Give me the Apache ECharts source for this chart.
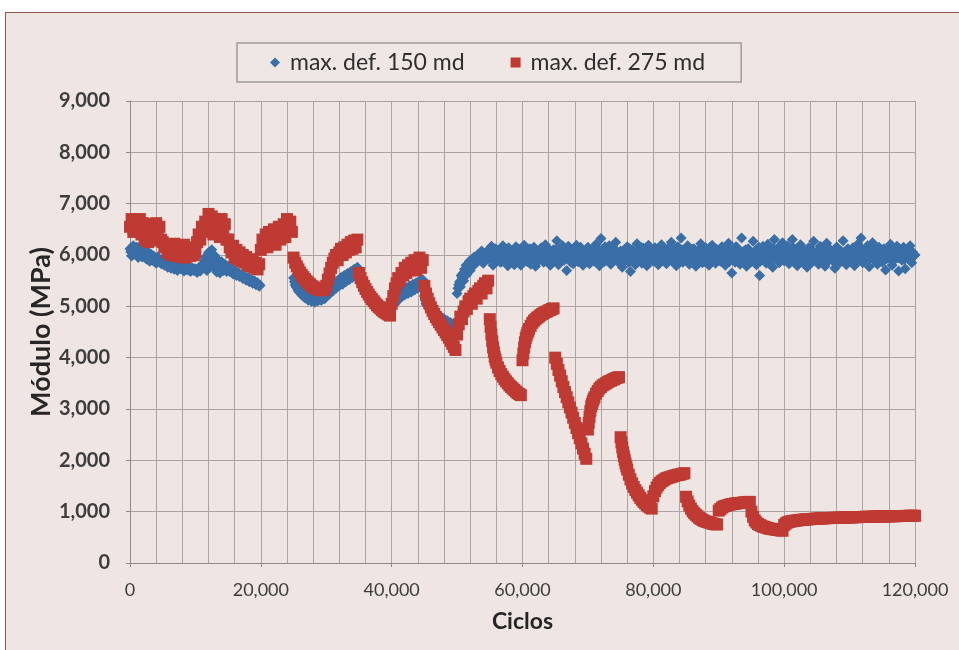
<!DOCTYPE html>
<html><head><meta charset="utf-8">
<script src="https://cdn.jsdelivr.net/npm/echarts@6/dist/echarts.min.js"></script>
<style>
html,body{margin:0;padding:0;background:#fff;width:959px;height:650px;overflow:hidden;}
#panel{position:absolute;left:5px;top:12px;width:1000px;height:700px;border:1.5px solid #8d5b47;background:#efe6e3;}
#chart{position:absolute;left:0;top:0;width:959px;height:650px;}
</style></head><body><div id="panel"></div><div id="chart"></div>
<script>
// ---- data ----
const seriesNames = ['max. def. 150 md', 'max. def. 275 md'];
const xTickLabels = ['0', '20,000', '40,000', '60,000', '80,000', '100,000', '120,000'];
const yTickLabels = ['0', '1,000', '2,000', '3,000', '4,000', '5,000', '6,000', '7,000', '8,000', '9,000'];

// blue: max. def. 150 md (readings every 250 cycles; the "d" arrays are the readings in between, offset by 125)
const blueA = [
  6120, 5980, 6180, 6040, 6150, 5950, 6080, 6200, 5990, 6100, 5920, 6060, 5880, 6010, 5940, 5870, 5840, 5960, 5890, 5830,
  5920, 5800, 5880, 5760, 5850, 5740, 5830, 5720, 5860, 5700, 5810, 5730, 5790, 5690, 5820, 5710, 5770, 5680, 5750, 5700,
  5720, 5660, 5750, 5690, 5740, 5850, 5950, 5700, 6050, 5820, 6100, 5760, 5980, 5670, 5900, 5650, 5870, 5700, 5820, 5680,
  5780, 5680, 5740, 5630, 5700, 5600, 5660, 5580, 5620, 5540, 5590, 5510, 5560, 5480, 5530, 5450, 5500, 5420, 5460, 5390
];
const blueAd = [
  6060, 6100, 6020, 6140, 6000, 6080, 6040, 5960, 6060, 5980, 6000, 5930, 5960, 5900, 5980, 5920, 5880, 5900, 5860, 5870,
  5860, 5820, 5800, 5840, 5780, 5800, 5770, 5790, 5760, 5780, 5750, 5770, 5740, 5760, 5730, 5750, 5720, 5740, 5720, 5730,
  5700, 5730, 5710, 5760, 5800, 5900, 5830, 6000, 5920, 5980, 5880, 5860, 5800, 5780, 5760, 5780, 5740, 5760, 5720, 5740,
  5720, 5690, 5680, 5660, 5640, 5630, 5610, 5600, 5580, 5570, 5550, 5530, 5520, 5500, 5490, 5470, 5460, 5440, 5420, 5410
];
const blueB = [
  5550, 5420, 5460, 5300, 5380, 5220, 5300, 5160, 5260, 5120, 5220, 5100, 5200, 5080, 5180, 5110, 5200, 5120, 5230, 5150,
  5200, 5300, 5240, 5360, 5300, 5450, 5350, 5500, 5400, 5560, 5430, 5600, 5480, 5640, 5520, 5680, 5560, 5720, 5600, 5760,
  5550, 5480, 5420, 5370, 5320, 5280, 5240, 5200, 5170, 5140, 5110, 5080, 5060, 5040, 5020, 5000, 4990, 4980, 4970, 4960,
  4980, 5080, 5050, 5180, 5120, 5260, 5180, 5300, 5220, 5360, 5250, 5400, 5280, 5430, 5320, 5460, 5350, 5500, 5380, 5520,
  5200, 5050, 5060, 4950, 4960, 4880, 4900, 4830, 4850, 4780, 4800, 4740, 4760, 4700, 4720, 4650, 4680, 4600, 4620, 4560
];
const blueBd = [
  5480, 5380, 5340, 5280, 5260, 5220, 5200, 5190, 5170, 5160, 5140, 5150, 5130, 5140, 5130, 5150, 5140, 5170, 5160, 5180,
  5240, 5280, 5320, 5330, 5380, 5400, 5440, 5460, 5480, 5500, 5520, 5540, 5560, 5580, 5600, 5610, 5640, 5660, 5680, 5700,
  5520, 5450, 5400, 5350, 5300, 5260, 5220, 5190, 5160, 5130, 5100, 5070, 5050, 5030, 5010, 4990, 4980, 4970, 4960, 4950,
  5020, 5060, 5120, 5150, 5200, 5230, 5240, 5280, 5290, 5310, 5320, 5340, 5350, 5370, 5380, 5390, 5400, 5420, 5430, 5450,
  5120, 5020, 4990, 4940, 4920, 4880, 4860, 4830, 4810, 4790, 4770, 4750, 4730, 4710, 4690, 4670, 4650, 4630, 4610, 4590
];
const blueC = [
  5250, 5420, 5380, 5560, 5500, 5680, 5620, 5760, 5700, 5850, 5790, 5940, 5860, 6010, 5900, 6080, 5840, 5980, 6060, 5920,
  5950, 6170, 5800, 6020, 5880, 6090, 6030, 5870, 6180, 5940, 6100, 5790, 5890, 6080, 5960, 5810, 6160, 6010, 6100, 5800,
  6010, 6190, 5940, 5870, 6080, 5820, 5960, 6150, 5780, 6040, 5900, 6110, 6020, 5860, 6200, 5930, 6070, 5800, 5880, 6100,
  5950, 6280, 5810, 6040, 5890, 6120, 5980, 5700, 6170, 5920, 6060, 5830, 6010, 6190, 5870, 5960, 6100, 5800, 6040, 5900,
  6150, 5830, 6000, 6090, 5880, 6210, 5950, 5790, 6320, 6030, 5870, 6110, 5940, 6180, 5820, 6060, 5910, 6250, 5990, 5850,
  6080, 5760, 6020, 5940, 6160, 5860, 5680, 6100, 5990, 5810, 6220, 5900, 6050, 5840, 6130, 5970, 5790, 6190, 5920, 6070,
  5880, 6140, 5960, 5810, 6060, 6200, 5900, 6010, 5830, 6120, 5940, 6250, 5870, 6040, 5790, 6160, 5990, 6330, 5860, 6080,
  5950, 6180, 5820, 6030, 5900, 6110, 5780, 6070, 5980, 6220, 5850, 6000, 6140, 5910, 5800, 6060, 6190, 5930, 5840, 6100,
  6020, 5880, 6160, 5950, 5800, 6090, 6230, 5910, 5650, 6040, 5860, 6150, 5990, 5820, 6330, 6070, 5930, 5780, 6120, 6000,
  5870, 6270, 5960, 5810, 6100, 5600, 6030, 6170, 5900, 5840, 6210, 5990, 6060, 5760, 6300, 5920, 6130, 5850, 6010, 6240,
  5890, 6050, 6180, 5830, 5970, 6300, 5910, 6100, 5790, 6020, 6200, 5870, 6080, 5950, 5760, 6140, 6000, 5860, 6270, 5930,
  6060, 5820, 6170, 5950, 6010, 5780, 6230, 5890, 6110, 5970, 6040, 5740, 6150, 5910, 5850, 6070, 6280, 5960, 5810, 6120,
  6000, 5870, 6140, 5790, 6060, 6210, 5930, 6330, 5850, 6030, 5960, 6180, 5770, 6090, 6240, 5900, 6010, 5820, 6150, 5980,
  5860, 6120, 5710, 6040, 5940, 6210, 5800, 6070, 5980, 6170, 5690, 6020, 5900, 6150, 5730, 6060, 5940, 6180, 5850, 6010,
  6000
];
const blueCd = [
  5350, 5480, 5600, 5640, 5720, 5800, 5760, 5880, 5820, 5920, 5960, 5900, 6000, 5940, 6040, 5980, 6020, 5950, 6080, 6000,
  6060, 5900, 5990, 6120, 5930, 6040, 5860, 6000, 6080, 5920, 5980, 6140, 5940, 6020, 5880, 6060, 5960, 6100, 5910, 6030,
  5920, 6060, 6000, 5890, 6120, 5970, 6030, 5880, 6080, 5950, 6010, 6140, 5900, 6050, 5980, 5870, 6100, 5940, 6020, 5960,
  6100, 5920, 6050, 5980, 6180, 5900, 6040, 5960, 6090, 5860, 6000, 6120, 5930, 6060, 5990, 6150, 5910, 6030, 5870, 6080,
  5970, 6060, 5910, 6130, 6010, 5940, 6100, 5880, 6050, 5990, 6160, 5920, 6070, 5850, 6020, 5960, 6110, 5900, 6040, 6000,
  5940, 6080, 5880, 6020, 5980, 6120, 5910, 6050, 5860, 6000, 6090, 5950, 6150, 5920, 6010, 5890, 6060, 5970, 6110, 5930,
  6020, 5950, 6090, 5880, 6040, 5990, 6130, 5920, 6060, 5970, 6010, 6150, 5900, 6080, 5960, 6030, 5870, 6100, 5940, 6050,
  6070, 5910, 6010, 5980, 6120, 5890, 6040, 5950, 6100, 5930, 6060, 5870, 6020, 5990, 6140, 5920, 6050, 5960, 6090, 5900,
  5960, 6050, 5900, 6110, 5990, 6030, 5870, 6080, 5940, 6000, 6160, 5920, 6060, 5980, 6020, 5890, 6100, 5950, 6040, 5910,
  6030, 5920, 6090, 5980, 6150, 5880, 6020, 5960, 6100, 5930, 6050, 5990, 5900, 6130, 6010, 5950, 6070, 5920, 6110, 5970,
  6000, 6090, 5940, 6040, 5980, 6140, 5910, 6060, 5970, 6100, 5930, 6020, 5880, 6080, 6010, 5950, 6120, 5990, 6040, 5920,
  5960, 6070, 5990, 6120, 5920, 6040, 5970, 6000, 6090, 5890, 6030, 5980, 6140, 5940, 6060, 6010, 5900, 6080, 5960, 6050,
  6040, 5930, 6100, 5980, 6020, 5900, 6130, 5970, 6060, 5940, 6090, 6000, 5920, 6050, 5990, 6150, 5910, 6070, 5960, 6030,
  5990, 6050, 5920, 6100, 5960, 6030, 5880, 6070, 6000, 5940, 6120, 5970, 6040, 5910, 6080, 5990, 6020, 5930, 6060, 5990
];
const blueRuns      = [blueA, blueAd, blueB, blueBd, blueC, blueCd];
const blueRunStarts = [0, 125, 25000, 25125, 50000, 50125];
const BLUE_STEP = 250;

// red: max. def. 275 md, one array per run (start cycle and sampling step listed below)
const red00 = [6550, 6700, 6450, 6650, 6600, 6480, 6700, 6400, 6620, 6300, 6550, 6250, 6600, 6350, 6500, 6280, 6620, 6400, 6550, 6300];
const red05 = [6250, 6150, 6200, 6050, 6180, 6000, 6120, 6220, 5980, 6100, 6150, 5960, 6080, 6200, 5950, 6050, 6120, 5980, 6150, 6000];
const red10 = [6050, 6250, 6400, 6300, 6550, 6450, 6650, 6500, 6800, 6600, 6750, 6400, 6700, 6500, 6650, 6350, 6700, 6450, 6600, 6300];
const red15 = [6300, 6150, 6050, 6180, 5950, 6100, 5920, 6050, 5880, 6000, 5850, 5960, 5800, 5920, 5780, 5880, 5750, 5850, 5720, 5820];
const red20 = [6100, 6300, 6200, 6400, 6150, 6450, 6250, 6350, 6500, 6200, 6400, 6550, 6300, 6450, 6600, 6350, 6700, 6500, 6650, 6450];
const red25 = [5950, 5850, 5780, 5720, 5660, 5610, 5570, 5530, 5490, 5460, 5430, 5400, 5380, 5360, 5340, 5330, 5320, 5310, 5320, 5340];
const red30 = [5400, 5520, 5640, 5750, 5850, 5930, 6000, 5900, 6050, 6120, 6000, 6150, 6050, 6200, 6100, 6250, 6120, 6280, 6150, 6300];
const red35 = [5650, 5550, 5470, 5400, 5340, 5280, 5230, 5180, 5140, 5100, 5060, 5020, 4990, 4960, 4930, 4900, 4880, 4860, 4840, 4820];
const red40 = [5050, 5200, 5350, 5450, 5550, 5500, 5650, 5600, 5750, 5650, 5800, 5700, 5850, 5750, 5900, 5700, 5850, 5950, 5750, 5900];
const red45 = [5400, 5250, 5150, 5060, 4980, 4910, 4850, 4790, 4740, 4690, 4640, 4590, 4540, 4490, 4440, 4390, 4330, 4270, 4210, 4150];
const red50 = [4450, 4650, 4800, 4750, 4900, 5000, 4950, 5100, 5150, 5050, 5200, 5250, 5150, 5300, 5350, 5250, 5400, 5450, 5350, 5500];
const red55a = [4750, 4600, 4450, 4320, 4200, 4110, 4020, 3960];
const red55 = [3900, 3810, 3740, 3680, 3630, 3580, 3540, 3500, 3460, 3430, 3400, 3370, 3340, 3310, 3290, 3270];
const red60a = [3950, 4080, 4200, 4300, 4380, 4430, 4480, 4520];
const red60 = [4560, 4620, 4680, 4720, 4750, 4780, 4800, 4830, 4850, 4870, 4890, 4900, 4920, 4930, 4950, 4960];
const red65 = [4000, 3880, 3760, 3650, 3540, 3430, 3330, 3230, 3130, 3030, 2930, 2830, 2730, 2630, 2530, 2430, 2330, 2230, 2130, 2030];
const red70a = [2600, 2730, 2850, 2960, 3050, 3100, 3150, 3190];
const red70 = [3230, 3300, 3350, 3400, 3430, 3460, 3480, 3500, 3520, 3540, 3550, 3570, 3580, 3600, 3610, 3620];
const red75a = [2450, 2350, 2250, 2160, 2080, 2010, 1940, 1880];
const red75 = [1820, 1720, 1630, 1550, 1480, 1420, 1370, 1320, 1270, 1230, 1190, 1160, 1130, 1100, 1080, 1060];
const red80 = [1300, 1400, 1470, 1520, 1560, 1590, 1610, 1630, 1650, 1660, 1670, 1680, 1690, 1700, 1710, 1720, 1720, 1730, 1740, 1750];
const red85 = [1290, 1200, 1120, 1060, 1010, 970, 940, 910, 880, 860, 840, 820, 810, 800, 790, 780, 770, 760, 755, 750];
const red90 = [1020, 1050, 1080, 1100, 1110, 1120, 1130, 1140, 1150, 1150, 1160, 1160, 1170, 1170, 1170, 1180, 1180, 1180, 1190, 1190];
const red95 = [1000, 900, 830, 790, 760, 740, 725, 710, 700, 690, 680, 670, 665, 660, 655, 650, 645, 640, 635, 630];
const red100 = [
  740, 770, 790, 800, 810, 815, 820, 825, 830, 835, 838, 842, 845, 848, 850, 852, 855, 858, 860, 862,
  865, 866, 868, 870, 871, 872, 874, 875, 876, 878, 879, 880, 881, 882, 883, 884, 885, 886, 887, 888,
  889, 890, 891, 892, 893, 894, 895, 896, 897, 898, 899, 900, 900, 901, 902, 903, 904, 905, 906, 907,
  908, 908, 909, 910, 910, 911, 912, 912, 913, 914, 914, 915, 916, 916, 917, 918, 918, 919, 920, 920,
  920
];
const redRuns      = [red00, red05, red10, red15, red20, red25, red30, red35, red40, red45, red50, red55a, red55, red60a, red60, red65, red70a, red70, red75a, red75, red80, red85, red90, red95, red100];
const redRunStarts = [0, 5000, 10000, 15000, 20000, 25000, 30000, 35000, 40000, 45000, 50000, 55000, 56000, 60000, 61000, 65000, 70000, 71000, 75000, 76000, 80000, 85000, 90000, 95000, 100000];
const redRunSteps  = [250, 250, 250, 250, 250, 250, 250, 250, 250, 250, 250, 125, 250, 125, 250, 250, 125, 250, 125, 250, 250, 250, 250, 250, 250];

function toPairs(start, step, vals) { return vals.map((v, i) => [start + i * step, v]); }
let blueData = [];
blueRuns.forEach((r, k) => { blueData = blueData.concat(toPairs(blueRunStarts[k], BLUE_STEP, r)); });
let redData = [];
redRuns.forEach((r, k) => { redData = redData.concat(toPairs(redRunStarts[k], redRunSteps[k], r)); });

const FONT = 'Lato, "Open Sans", sans-serif';
const gridColor = '#aaa5a2';
const chart = echarts.init(document.getElementById('chart'), null, { renderer: 'canvas' });
chart.setOption({
  backgroundColor: 'transparent',
  animation: false,
  textStyle: { fontFamily: FONT },
  legend: {
    left: 237, top: 43,
    padding: [8, 36, 8, 33],
    itemGap: 46,
    itemWidth: 10, itemHeight: 10,
    borderColor: '#a09a98', borderWidth: 1.5,
    backgroundColor: '#efe7e4',
    textStyle: { fontFamily: FONT, fontSize: 23, color: '#2e2e2e', padding: [0, 0, 0, 5] },
    data: seriesNames
  },
  grid: { left: 130, right: 44, top: 101, bottom: 87, containLabel: false },
  xAxis: {
    type: 'value', min: 0, max: 120000, interval: 20000,
    name: 'Ciclos', nameLocation: 'middle', nameGap: 47, nameMoveOverlap: false,
    nameTextStyle: { fontFamily: FONT, fontSize: 23, fontWeight: 'bold', color: '#262626' },
    axisLine: { show: true, lineStyle: { color: '#8f8a88', width: 1 } },
    axisTick: { show: true, length: 4, lineStyle: { color: '#8f8a88' } },
    axisLabel: { margin: 18, fontSize: 18, color: '#3d3d3d', fontFamily: FONT,
      formatter: v => xTickLabels[Math.round(v / 20000)] },
    splitLine: { show: true, lineStyle: { color: gridColor, width: 1 } },
    minorTick: { show: false, splitNumber: 5 },
    minorSplitLine: { show: true, lineStyle: { color: gridColor, width: 1 } }
  },
  yAxis: {
    type: 'value', min: 0, max: 9000, interval: 1000,
    name: 'Módulo (MPa)', nameLocation: 'middle', nameGap: 75, nameRotate: 90, nameMoveOverlap: false,
    nameTextStyle: { fontFamily: FONT, fontSize: 27, fontWeight: 'bold', color: '#262626' },
    axisLine: { show: true, lineStyle: { color: '#8f8a88', width: 1 } },
    axisTick: { show: true, length: 4, lineStyle: { color: '#8f8a88' } },
    axisLabel: { margin: 20, fontSize: 20, fontWeight: 'bold', color: '#3d3d3d', fontFamily: FONT,
      formatter: v => yTickLabels[Math.round(v / 1000)] },
    splitLine: { show: true, lineStyle: { color: gridColor, width: 1 } }
  },
  series: [
    { name: seriesNames[0], type: 'scatter', symbol: 'diamond', symbolSize: 11,
      itemStyle: { color: '#3a6ea7', opacity: 1 }, data: blueData, z: 2 },
    { name: seriesNames[1], type: 'scatter', symbol: 'rect', symbolSize: 12,
      itemStyle: { color: '#be3a33', opacity: 1 }, data: redData, z: 3 }
  ]
});
</script></body></html>
